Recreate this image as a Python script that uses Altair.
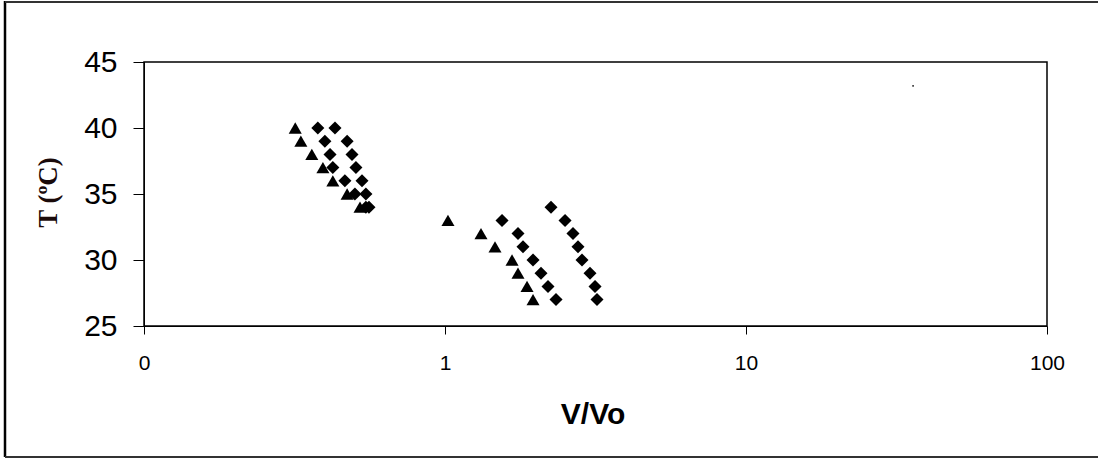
import altair as alt
import pandas as pd

# Temperatures (°C) and relative volumes V/Vo for each series
t_high = [40, 39, 38, 37, 36, 35, 34]
tri_high = [0.318, 0.332, 0.361, 0.393, 0.424, 0.473, 0.522]
dia_high_a = [0.378, 0.399, 0.415, 0.424, 0.465, 0.502, 0.546]
dia_high_b = [0.431, 0.473, 0.491, 0.506, 0.530, 0.546, 0.559]

t_low = [33, 32, 31, 30, 29, 28, 27]
tri_low = [1.023, 1.317, 1.466, 1.670, 1.748, 1.873, 1.961]
dia_low_a = [1.547, 1.748, 1.816, 1.961, 2.084, 2.199, 2.338]

t_low_b = [34, 33, 32, 31, 30, 29, 28, 27]
dia_low_b = [2.25, 2.505, 2.662, 2.766, 2.852, 3.032, 3.151, 3.199]

stray_v = [35.9]
stray_t = [43.2]

rows = []
for vals, temps, kind in [
    (tri_high, t_high, "tri"),
    (dia_high_a, t_high, "dia"),
    (dia_high_b, t_high, "dia"),
    (tri_low, t_low, "tri"),
    (dia_low_a, t_low, "dia"),
    (dia_low_b, t_low_b, "dia"),
]:
    for v, t in zip(vals, temps):
        rows.append({"v": v, "t": t, "kind": kind})
df = pd.DataFrame(rows)
stray = pd.DataFrame({"v": stray_v, "t": stray_t})

W, H = 903, 264
SANS = "Liberation Sans"
SERIF = "Liberation Serif"

x_scale = alt.Scale(type="log", domain=[0.1, 100])
y_scale = alt.Scale(domain=[25, 45])

x_axis = alt.Axis(
    values=[0.1, 1, 10, 100],
    labelExpr="datum.value < 0.5 ? '0' : format(datum.value, 'd')",
    title="V/Vo",
    titleFont=SANS, titleFontSize=30, titleFontWeight="bold", titleColor="black",
    titleX=W / 2 - 3, titleY=97, titleBaseline="alphabetic", titleAnchor="middle",
    labelFont=SANS, labelFontSize=21, labelColor="black", labelPadding=18,
    labelFlush=False, labelOverlap=False,
    tickSize=8, tickColor="black", domainColor="black", grid=False,
)
y_axis = alt.Axis(
    values=[25, 30, 35, 40, 45],
    title="T (ºC)",
    titleFont=SERIF, titleFontSize=27, titleFontWeight="bold", titleColor="#1a0a0a",
    titleX=-96, titleY=130, titleAlign="center", titleBaseline="middle", titleAngle=-90,
    labelFont=SANS, labelFontSize=30, labelColor="black", labelPadding=16,
    tickSize=11, tickColor="black", domainColor="black", grid=False,
)

points = alt.Chart(df).mark_point(filled=True, opacity=1, color="black").encode(
    x=alt.X("v:Q", scale=x_scale, axis=x_axis),
    y=alt.Y("t:Q", scale=y_scale, axis=y_axis),
    shape=alt.Shape("kind:N", scale=alt.Scale(domain=["tri", "dia"],
                                              range=["triangle-up", "diamond"]),
                    legend=None),
    size=alt.value(170),
)

dot = alt.Chart(stray).mark_point(filled=True, opacity=1, color="#444", shape="square").encode(
    x=alt.X("v:Q", scale=x_scale),
    y=alt.Y("t:Q", scale=y_scale),
    size=alt.value(3),
)

# Outer border of the figure: left, top and bottom edges (right edge lies off the page)
one = pd.DataFrame({"a": [0]})
border_left = alt.Chart(one).mark_rule(color="black", strokeWidth=2.5).encode(
    x=alt.value(-139), y=alt.value(-61), y2=alt.value(H + 131),
)
border_top = alt.Chart(one).mark_rule(color="#333", strokeWidth=2).encode(
    x=alt.value(-139), x2=alt.value(W + 60), y=alt.value(-60),
)
border_bottom = alt.Chart(one).mark_rule(color="#333", strokeWidth=2).encode(
    x=alt.value(-139), x2=alt.value(W + 60), y=alt.value(H + 131),
)

chart = alt.layer(border_left, border_top, border_bottom, points, dot).properties(
    width=W, height=H,
    autosize=alt.AutoSizeParams(type="none"),
    padding={"left": 144, "top": 62, "right": 51, "bottom": 133},
    background="white",
).configure_view(stroke="black", strokeWidth=1.5)

chart.save("out.html", embed_options={"renderer": "svg", "actions": False})
